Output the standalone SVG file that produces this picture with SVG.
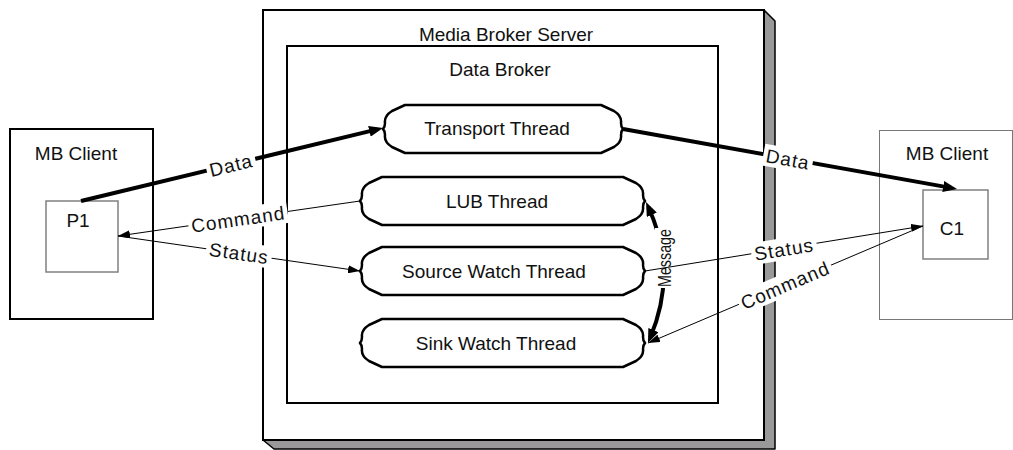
<svg xmlns="http://www.w3.org/2000/svg" width="1013" height="450" viewBox="0 0 1013 450">
  <style>
    text { font-family: "Liberation Sans", Arial, sans-serif; font-size: 19px; fill: #111; }
    .mid { text-anchor: middle; }
    .lbl { text-anchor: middle; letter-spacing: 1px; }
    .thread { fill: #fff; stroke: #000; stroke-width: 2.5; stroke-linejoin: round; }
    .thick { fill: none; stroke: #000; stroke-width: 4; }
    .thin { fill: none; stroke: #000; stroke-width: 1; }
    .bg { fill: #fff; stroke: none; }
  </style>
  <defs>
    <marker id="headThick" markerUnits="userSpaceOnUse" markerWidth="14" markerHeight="11" refX="8" refY="5.5" orient="auto-start-reverse">
      <path d="M0,0 L14,5.5 L0,11 Z" fill="#000"/>
    </marker>
    <marker id="headThin" markerUnits="userSpaceOnUse" markerWidth="12" markerHeight="8" refX="12" refY="4" orient="auto-start-reverse">
      <path d="M0,0 L12,4 L0,8 Z" fill="#000"/>
    </marker>
  </defs>

  <rect width="1013" height="450" fill="#fff"/>

  <!-- Producer side client -->
  <g id="client-left">
    <rect x="10" y="129" width="143" height="190" fill="#fff" stroke="#000" stroke-width="2"/>
    <text class="mid" x="76" y="160">MB Client</text>
  </g>
  <g id="p1">
    <rect x="46" y="201" width="72" height="71" fill="#fff" stroke="#808080" stroke-width="1.5"/>
    <text class="mid" x="78" y="227">P1</text>
  </g>

  <!-- Server with drop shadow -->
  <g id="media-broker-server">
    <polygon points="764,10 775,21 775,449 274,449 263,440 764,440" fill="#999" stroke="#000" stroke-width="1.5" stroke-linejoin="round"/>
    <rect x="263" y="10" width="501" height="430" fill="#fff" stroke="#000" stroke-width="2"/>
    <text class="mid" x="506" y="41">Media Broker Server</text>
  </g>
  <g id="data-broker">
    <rect x="287" y="46" width="431" height="357" fill="#fff" stroke="#000" stroke-width="2"/>
    <text class="mid" x="500" y="76">Data Broker</text>
  </g>

  <!-- Threads -->
  <g id="transport-thread">
    <path class="thread" d="M405,105 H601 L614,111 Q622,116 621,123 Q621,127 623,129 Q621,131 621,135 Q622,142 614,147 L601,153 H405 L392,147 Q384,142 385,135 Q385,131 383,129 Q385,127 385,123 Q384,116 392,111 Z"/>
    <text class="mid" x="497" y="135">Transport Thread</text>
  </g>
  <g id="lub-thread">
    <path class="thread" d="M382,177 H623 L636,183 Q644,188 643,195 Q643,199 645,201 Q643,203 643,207 Q644,214 636,219 L623,225 H382 L369,219 Q361,214 362,207 Q362,203 360,201 Q362,199 362,195 Q361,188 369,183 Z"/>
    <text class="mid" x="497" y="208">LUB Thread</text>
  </g>
  <g id="source-watch-thread">
    <path class="thread" d="M382,247 H623 L636,253 Q644,258 643,265 Q643,269 645,271 Q643,273 643,277 Q644,284 636,289 L623,295 H382 L369,289 Q361,284 362,277 Q362,273 360,271 Q362,269 362,265 Q361,258 369,253 Z"/>
    <text class="mid" x="494" y="278">Source Watch Thread</text>
  </g>
  <g id="sink-watch-thread">
    <path class="thread" d="M382,319 H623 L636,325 Q644,330 643,337 Q643,341 645,343 Q643,345 643,349 Q644,356 636,361 L623,367 H382 L369,361 Q361,356 362,349 Q362,345 360,343 Q362,341 362,337 Q361,330 369,325 Z"/>
    <text class="mid" x="496" y="350">Sink Watch Thread</text>
  </g>

  <!-- Consumer side client -->
  <g id="client-right">
    <rect x="879.5" y="130.5" width="133" height="189" fill="#fff" stroke="#777" stroke-width="1"/>
    <text class="mid" x="947" y="160">MB Client</text>
  </g>
  <g id="c1">
    <rect x="923" y="190" width="65" height="69" fill="#fff" stroke="#808080" stroke-width="1.5"/>
    <text class="mid" x="952" y="235">C1</text>
  </g>

  <!-- Connectors -->
  <g id="connectors">
    <!-- internal message exchange between watch threads and LUB -->
    <path class="thick" stroke-width="3" d="M650.3,337.5 Q678,272 648.5,207.5" marker-start="url(#headThick)" marker-end="url(#headThick)"/>
    <g transform="translate(665,258) rotate(-90)">
      <rect class="bg" x="-30" y="-10" width="60" height="20"/>
      <text class="mid" x="0" y="6" font-size="16" textLength="58" lengthAdjust="spacingAndGlyphs">Message</text>
    </g>

    <!-- producer side -->
    <path class="thick" d="M81,201 L377.2,129.4" marker-end="url(#headThick)"/>
    <path class="thin" d="M360,201 L118,236" marker-end="url(#headThin)"/>
    <path class="thin" d="M118,236 L360,271" marker-end="url(#headThin)"/>

    <!-- consumer side -->
    <path class="thick" d="M623,129 L951.1,187.9" marker-end="url(#headThick)"/>
    <path class="thin" d="M645,271 L923,226" marker-end="url(#headThin)"/>
    <path class="thin" d="M923,226 L648,343" marker-end="url(#headThin)"/>

    <!-- connector labels -->
    <g transform="translate(231,165) rotate(-13.6)">
      <rect class="bg" x="-25" y="-11" width="50" height="22"/>
      <text class="lbl" x="0" y="7">Data</text>
    </g>
    <g transform="translate(238,219) rotate(-8.2)">
      <rect class="bg" x="-50" y="-11" width="100" height="22"/>
      <text class="lbl" x="0" y="7">Command</text>
    </g>
    <g transform="translate(239,253) rotate(8.2)">
      <rect class="bg" x="-33" y="-11" width="66" height="22"/>
      <text class="lbl" x="0" y="7">Status</text>
    </g>
    <g transform="translate(788,159) rotate(10.2)">
      <rect class="bg" x="-25" y="-11" width="50" height="22"/>
      <text class="lbl" x="0" y="7">Data</text>
    </g>
    <g transform="translate(784,249) rotate(-9.2)">
      <rect class="bg" x="-33" y="-11" width="66" height="22"/>
      <text class="lbl" x="0" y="7">Status</text>
    </g>
    <g transform="translate(785,285) rotate(-23)">
      <rect class="bg" x="-50" y="-11" width="100" height="22"/>
      <text class="lbl" x="0" y="7">Command</text>
    </g>
  </g>
</svg>
